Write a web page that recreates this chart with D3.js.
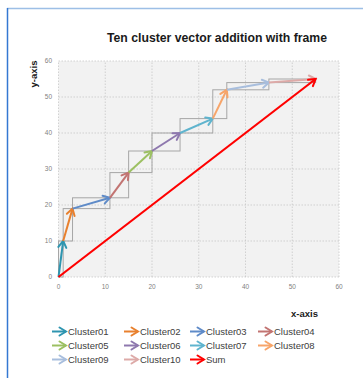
<!DOCTYPE html>
<html>
<head>
<meta charset="utf-8">
<script src="https://cdn.jsdelivr.net/npm/d3@7"></script>
<style>
  body { margin: 0; background: #fff; }
  svg { display: block; font-family: 'Liberation Sans', Arial, sans-serif; }
</style>
</head>
<body>
<script>
// vector components for each cluster, summed tip to tail
const clusters = ['Cluster01', 'Cluster02', 'Cluster03', 'Cluster04', 'Cluster05',
  'Cluster06', 'Cluster07', 'Cluster08', 'Cluster09', 'Cluster10'];
const dx = [1, 2, 8, 4, 5, 6, 7, 3, 9, 10];
const dy = [10, 9, 3, 7, 6, 5, 4, 8, 2, 1];
const colors = ['#2E95B0', '#E8802E', '#5F8BC8', '#C27472', '#9CC062',
  '#8E78AE', '#5FB4CE', '#F7A56A', '#A8BEDD', '#DDAAA8'];
const sumColor = '#FF0000';
const xTicks = [0, 10, 20, 30, 40, 50, 60];
const yTicks = [0, 10, 20, 30, 40, 50, 60];

const width = 363;
const height = 378;

// running start / end points
const vectors = [];
let cx = 0, cy = 0;
clusters.forEach((name, i) => {
  vectors.push({ name, color: colors[i], x0: cx, y0: cy, x1: cx + dx[i], y1: cy + dy[i] });
  cx += dx[i];
  cy += dy[i];
});
const sum = { name: 'Sum', color: sumColor, x0: 0, y0: 0, x1: cx, y1: cy };

const xScale = d3.scaleLinear().domain([0, 60]).range([58.5, 339]);
const yScale = d3.scaleLinear().domain([0, 60]).range([277, 61]);

const svg = d3.select('body').append('svg')
  .attr('width', width)
  .attr('height', height);

// outer frame (top + left edges visible)
svg.append('line').attr('x1', 7).attr('x2', width).attr('y1', 8.5).attr('y2', 8.5)
  .attr('stroke', '#9DBFE6').attr('stroke-width', 1.5);
svg.append('line').attr('x1', 7.5).attr('x2', 7.5).attr('y1', 8).attr('y2', height)
  .attr('stroke', '#3478D2').attr('stroke-width', 1.5);

// arrow markers
const defs = svg.append('defs');
const allItems = vectors.concat([sum]);
allItems.forEach((d, i) => {
  defs.append('marker')
    .attr('id', `arr${i}`)
    .attr('markerUnits', 'userSpaceOnUse')
    .attr('viewBox', '-10 -6 12 12')
    .attr('refX', 0)
    .attr('refY', 0)
    .attr('markerWidth', 12)
    .attr('markerHeight', 12)
    .attr('orient', 'auto')
    .append('path')
    .attr('d', 'M-6.5,-4 L0,0 L-6.5,4')
    .attr('fill', 'none')
    .attr('stroke', d.color)
    .attr('stroke-width', 2)
    .attr('stroke-linecap', 'round')
    .attr('stroke-linejoin', 'miter');
});

// plot area
svg.append('rect')
  .attr('x', xScale(0)).attr('y', yScale(60))
  .attr('width', xScale(60) - xScale(0))
  .attr('height', yScale(0) - yScale(60))
  .attr('fill', '#F2F2F2');

const grid = svg.append('g');
grid.selectAll('.vg').data(xTicks).enter().append('line')
  .attr('x1', d => xScale(d)).attr('x2', d => xScale(d))
  .attr('y1', yScale(0)).attr('y2', yScale(60))
  .attr('stroke', '#C8C8C8').attr('stroke-width', 0.8).attr('stroke-dasharray', '1.5,1.5');
grid.selectAll('.hg').data(yTicks).enter().append('line')
  .attr('x1', xScale(0)).attr('x2', xScale(60))
  .attr('y1', d => yScale(d)).attr('y2', d => yScale(d))
  .attr('stroke', '#C8C8C8').attr('stroke-width', 0.8).attr('stroke-dasharray', '1.5,1.5');

// tick labels
svg.append('g').selectAll('text').data(xTicks).enter().append('text')
  .attr('x', d => xScale(d)).attr('y', 289)
  .attr('text-anchor', 'middle')
  .attr('font-size', 6.5).attr('fill', '#7F7F7F')
  .text(d => d);
svg.append('g').selectAll('text').data(yTicks).enter().append('text')
  .attr('x', 52).attr('y', d => yScale(d) + 2.3)
  .attr('text-anchor', 'end')
  .attr('font-size', 6.5).attr('fill', '#7F7F7F')
  .text(d => d);

// frames around each vector
svg.append('g').selectAll('rect').data(vectors).enter().append('rect')
  .attr('x', d => xScale(d.x0))
  .attr('y', d => yScale(d.y1))
  .attr('width', d => xScale(d.x1) - xScale(d.x0))
  .attr('height', d => yScale(d.y0) - yScale(d.y1))
  .attr('fill', 'none')
  .attr('stroke', '#A6A6A6')
  .attr('stroke-width', 1);

// vectors
svg.append('g').selectAll('line').data(allItems).enter().append('line')
  .attr('x1', d => xScale(d.x0)).attr('y1', d => yScale(d.y0))
  .attr('x2', d => xScale(d.x1)).attr('y2', d => yScale(d.y1))
  .attr('stroke', d => d.color)
  .attr('stroke-width', d => d.name === 'Sum' ? 2.2 : 2)
  .attr('marker-end', (d, i) => `url(#arr${i})`);

// titles
svg.append('text')
  .attr('x', 217).attr('y', 41.5)
  .attr('text-anchor', 'middle')
  .attr('font-size', 12).attr('font-weight', 'bold').attr('fill', '#1a1a1a')
  .attr('textLength', 220).attr('lengthAdjust', 'spacingAndGlyphs')
  .text('Ten cluster vector addition with frame');
svg.append('text')
  .attr('x', 318).attr('y', 317)
  .attr('text-anchor', 'end')
  .attr('font-size', 9.5).attr('font-weight', 'bold').attr('fill', '#1a1a1a')
  .text('x-axis');
svg.append('text')
  .attr('transform', 'translate(36.5,74) rotate(-90)')
  .attr('text-anchor', 'middle')
  .attr('font-size', 9.5).attr('font-weight', 'bold').attr('fill', '#1a1a1a')
  .text('y-axis');

// legend
const colX = [52, 124, 190, 258];
const rowY = [331.5, 345.5, 359.5];
const legend = svg.append('g').selectAll('g').data(allItems).enter().append('g')
  .attr('transform', (d, i) => `translate(${colX[i % 4]},${rowY[Math.floor(i / 4)]})`);
legend.append('line')
  .attr('x1', 0).attr('x2', 14).attr('y1', 0).attr('y2', 0)
  .attr('stroke', d => d.color).attr('stroke-width', 2)
  .attr('marker-end', (d, i) => `url(#arr${i})`);
legend.append('text')
  .attr('x', 16).attr('y', 3.3)
  .attr('font-size', 9.5).attr('fill', '#404040')
  .text(d => d.name);
</script>
</body>
</html>
